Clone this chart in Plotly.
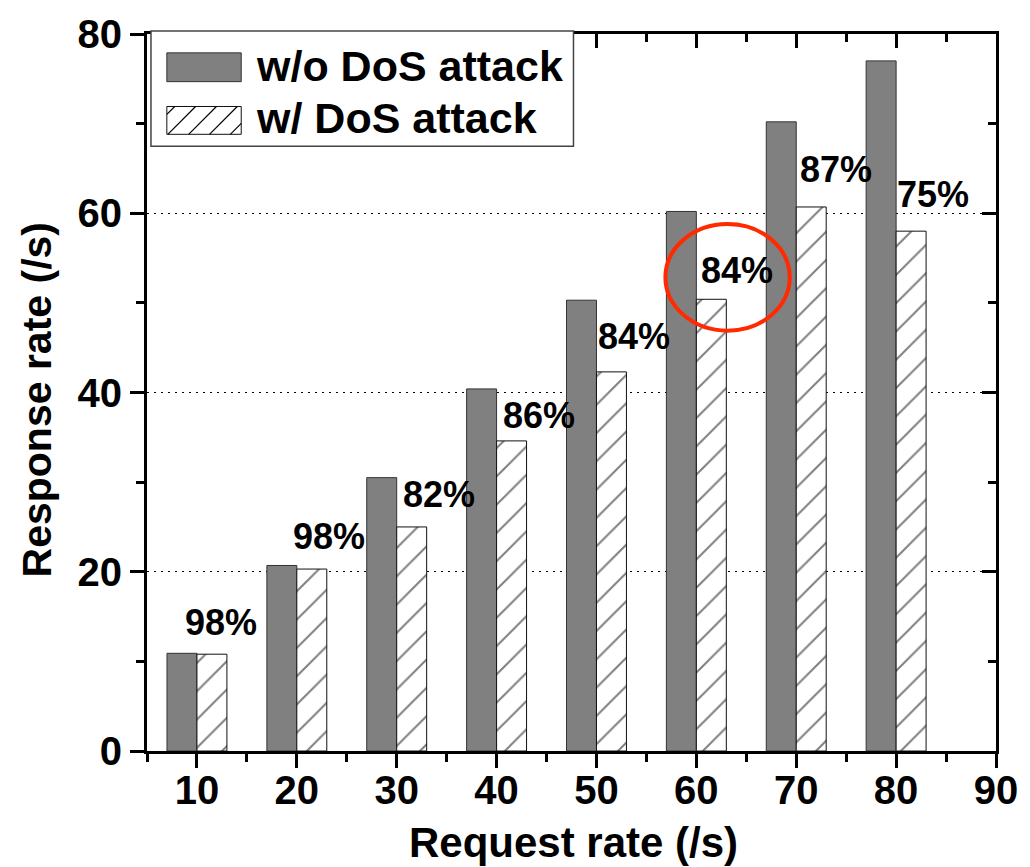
import plotly.graph_objects as go

# ---------------- data ----------------
request_rate = [10, 20, 30, 40, 50, 60, 70, 80]
wo_dos = [10.9, 20.7, 30.5, 40.4, 50.3, 60.2, 70.2, 77.0]
w_dos = [10.8, 20.3, 25.0, 34.6, 42.3, 50.4, 60.7, 58.0]
pct_labels = ["98%", "98%", "82%", "86%", "84%", "84%", "87%", "75%"]
x_ticks = [10, 20, 30, 40, 50, 60, 70, 80, 90]
y_ticks = [0, 20, 40, 60, 80]

# label placement nudges (layout only)
label_dx = [2.45, 3.2, 4.2, 4.2, 3.8, 4.1, 4.0, 3.7]
label_dy = [3.5, 3.6, 3.6, 2.8, 4.0, 3.2, 4.2, 4.1]

FONT = "Liberation Sans, Arial, Helvetica, sans-serif"
W, H = 1030, 867
L, R, T, B = 147, 27, 29, 116
PW, PH = W - L - R, H - T - B


def px_x(p):
    return (p - L) / PW


def px_y(p):
    return (H - B - p) / PH


fig = go.Figure()
fig.add_trace(go.Bar(
    x=request_rate, y=wo_dos, name="w/o DoS attack",
    marker=dict(color="#808080", line=dict(color="#333333", width=1)),
    showlegend=False,
))
fig.add_trace(go.Bar(
    x=request_rate, y=w_dos, name="w/ DoS attack",
    marker=dict(color="white", line=dict(color="#111111", width=1),
                pattern=dict(shape="/", fgcolor="black", bgcolor="white",
                             size=20, solidity=0.1)),
    showlegend=False,
))

axis_common = dict(
    showline=True, linecolor="black", linewidth=3,
    tickcolor="black", tickwidth=3, ticklen=14,
    tickfont=dict(family=FONT, size=40, color="black", weight="bold"),
    zeroline=False,
)

fig.update_layout(
    width=W, height=H,
    margin=dict(l=L, r=R, t=T, b=B, pad=0),
    paper_bgcolor="white", plot_bgcolor="white",
    barmode="group", bargap=0.4, bargroupgap=0,
    showlegend=False,
    xaxis=dict(range=[5, 90], tickvals=x_ticks, ticks="outside",
               ticklabelstandoff=-12,
               minor=dict(dtick=5, tick0=5, ticks="outside", ticklen=8,
                          tickwidth=3, tickcolor="black"),
               showgrid=False, **axis_common),
    yaxis=dict(range=[0, 80], tickvals=y_ticks, ticks="outside",
               minor=dict(dtick=10, ticks="outside", ticklen=8,
                          tickwidth=3, tickcolor="black", showgrid=False),
               showgrid=True, gridcolor="black", gridwidth=1,
               griddash="2px,5px", **axis_common),
    xaxis2=dict(range=[5, 90], overlaying="x", side="top", anchor="y",
                tickvals=x_ticks, ticks="inside", showticklabels=False,
                minor=dict(dtick=5, tick0=5, ticks="inside", ticklen=8,
                           tickwidth=3, tickcolor="black"),
                showgrid=False, showline=True, linecolor="black",
                linewidth=3, tickcolor="black", tickwidth=3, ticklen=14),
    yaxis2=dict(range=[0, 80], overlaying="y", side="right", anchor="x",
                tickvals=y_ticks, ticks="inside", showticklabels=False,
                minor=dict(dtick=10, ticks="inside", ticklen=8,
                           tickwidth=3, tickcolor="black"),
                showgrid=False, showline=True, linecolor="black",
                linewidth=3, tickcolor="black", tickwidth=3, ticklen=14),
)
# dummy empty trace to activate the mirrored axes
fig.add_trace(go.Scatter(x=[None], y=[None], xaxis="x2", yaxis="y2",
                         showlegend=False, hoverinfo="skip"))

annotations = []
# percentage labels
for xv, yv, t, dx, dy in zip(request_rate, w_dos, pct_labels, label_dx, label_dy):
    annotations.append(dict(x=xv + dx, y=yv + dy, xref="x", yref="y", text=t,
                            showarrow=False, xanchor="center", yanchor="middle",
                            font=dict(family=FONT, size=36, color="black",
                                      weight="bold")))
# axis titles
annotations.append(dict(x=px_x(577), y=0, xref="paper", yref="paper",
                        text="Request rate (/s)", showarrow=False,
                        xanchor="center", yanchor="top", yshift=-66,
                        font=dict(family=FONT, size=42, color="black",
                                  weight="bold")))
annotations.append(dict(x=0, y=px_y(398), xref="paper", yref="paper",
                        text="Response rate (/s)", showarrow=False,
                        textangle=-90, xanchor="center", yanchor="middle",
                        xshift=37 - L,
                        font=dict(family=FONT, size=41, color="black",
                                  weight="bold")))
# legend text
annotations.append(dict(x=px_x(255), y=px_y(61), xref="paper", yref="paper",
                        text="w/o DoS attack", showarrow=False,
                        xanchor="left", yanchor="middle",
                        font=dict(family=FONT, size=43, color="black",
                                  weight="bold")))
annotations.append(dict(x=px_x(255), y=px_y(114), xref="paper", yref="paper",
                        text="w/ DoS attack", showarrow=False,
                        xanchor="left", yanchor="middle",
                        font=dict(family=FONT, size=43, color="black",
                                  weight="bold")))

shapes = []
# legend box
shapes.append(dict(type="rect", xref="paper", yref="paper",
                   x0=px_x(151), x1=px_x(577), y0=px_y(142), y1=px_y(26),
                   fillcolor="white", line=dict(color="#444444", width=1.5),
                   layer="above"))
# legend swatch 1
shapes.append(dict(type="rect", xref="paper", yref="paper",
                   x0=px_x(167), x1=px_x(242), y0=px_y(77), y1=px_y(48),
                   fillcolor="#808080", line=dict(color="#333333", width=1),
                   layer="above"))
# legend swatch 2 with hatch
sx0, sx1, sy0, sy1 = 167, 242, 102, 130
shapes.append(dict(type="rect", xref="paper", yref="paper",
                   x0=px_x(sx0), x1=px_x(sx1), y0=px_y(sy1), y1=px_y(sy0),
                   fillcolor="white", line=dict(color="#111111", width=1),
                   layer="above"))
h = sy1 - sy0
s = 21
u = sx0 - h + 8
while u < sx1:
    ax, ay = u, sy1
    bx, by = u + h, sy0
    if ax < sx0:
        ay = sy1 - (sx0 - u)
        ax = sx0
    if bx > sx1:
        by = sy1 - (sx1 - u)
        bx = sx1
    if bx > ax:
        shapes.append(dict(type="line", xref="paper", yref="paper",
                           x0=px_x(ax), y0=px_y(ay), x1=px_x(bx), y1=px_y(by),
                           line=dict(color="black", width=1.2), layer="above"))
    u += s
# red ellipse highlight
shapes.append(dict(type="circle", xref="x", yref="y",
                   x0=56.9, x1=69.35, y0=46.9, y1=58.8,
                   line=dict(color="#ff2a00", width=4), layer="above"))

fig.update_layout(annotations=annotations, shapes=shapes)
fig.write_html("out.html")
